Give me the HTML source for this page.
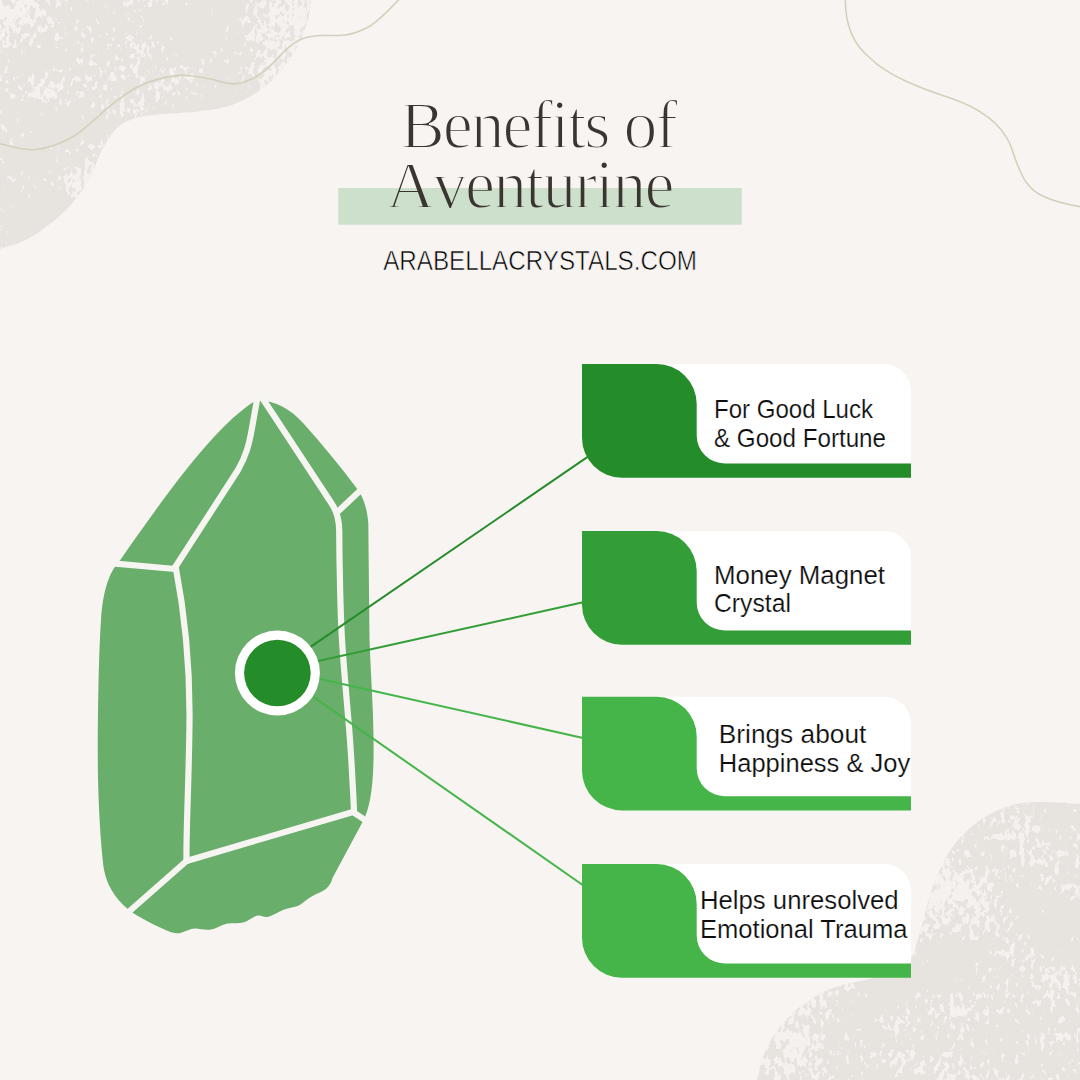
<!DOCTYPE html>
<html><head><meta charset="utf-8"><style>
html,body{margin:0;padding:0;background:#f7f4f2;}
body{width:1080px;height:1080px;overflow:hidden;position:relative;}
svg{position:absolute;left:0;top:0;display:block;}
text{font-family:"Liberation Sans", sans-serif;}
.serif{font-family:"Liberation Serif", serif;}
</style></head><body>
<svg width="1080" height="1080" viewBox="0 0 1080 1080">
<rect width="1080" height="1080" fill="#f7f4f2"/>
<filter id="speck" filterUnits="userSpaceOnUse" x="0" y="0" width="1080" height="1080" color-interpolation-filters="sRGB">
<feTurbulence type="fractalNoise" baseFrequency="0.2 0.12" numOctaves="3" seed="11" result="t1"/>
<feColorMatrix in="t1" type="matrix" values="1 0 0 0 0 0 1 0 0 0 0 0 1 0 0 0 0 0 0 1" result="n1"/>
<feTurbulence type="fractalNoise" baseFrequency="0.012 0.02" numOctaves="2" seed="4" result="t2"/>
<feColorMatrix in="t2" type="matrix" values="1 0 0 0 0 0 1 0 0 0 0 0 1 0 0 0 0 0 0 1" result="n2"/>
<feComposite in="n1" in2="n2" operator="arithmetic" k1="0" k2="1" k3="1.0" k4="-0.5" result="n"/>
<feColorMatrix in="n" type="matrix" values="0 0 0 0 0.957 0 0 0 0 0.945 0 0 0 0 0.937 18 0 0 0 -11.1" result="sp"/>
<feComposite in="sp" in2="SourceGraphic" operator="in" result="spc"/>
<feMerge><feMergeNode in="SourceGraphic"/><feMergeNode in="spc"/></feMerge>
</filter>
<g filter="url(#speck)"><path d="M312.6 -10.0 C312.3 -8.3 311.9 -5.5 311.0 0.0 C310.1 5.5 309.8 14.6 307.0 23.3 C304.2 32.0 300.1 42.7 294.5 52.0 C288.9 61.3 280.5 72.0 273.3 79.3 C266.1 86.6 259.1 91.3 251.1 95.9 C243.1 100.5 234.4 104.4 225.2 107.0 C215.9 109.6 206.7 110.5 195.6 111.7 C184.5 112.9 168.4 113.4 158.5 114.4 C148.6 115.5 143.0 115.7 136.0 118.0 C129.0 120.3 122.5 122.7 116.7 128.3 C110.9 133.9 105.5 143.3 101.0 151.7 C96.5 160.1 95.3 169.2 89.5 178.9 C83.7 188.6 75.8 200.3 66.0 210.0 C56.2 219.7 42.0 230.8 31.0 237.3 C20.0 243.8 6.8 246.7 0.0 249.0 C-6.8 251.3 -8.3 250.7 -10.0 251.0 L-10 -10 Z" fill="#e7e4e0"/><path d="M745.0 1090.0 C747.0 1088.3 753.8 1085.2 756.7 1080.0 C759.6 1074.8 759.4 1065.8 762.2 1058.5 C765.0 1051.2 769.0 1043.1 773.3 1036.3 C777.6 1029.5 782.9 1023.3 788.1 1017.8 C793.4 1012.2 798.9 1007.3 804.8 1003.0 C810.7 998.7 816.8 995.0 823.3 991.9 C829.8 988.8 836.0 986.6 843.7 984.4 C851.4 982.2 861.9 981.0 869.6 978.9 C877.3 976.8 883.0 975.7 890.0 972.0 C897.0 968.3 907.0 961.7 911.5 956.7 C916.0 951.7 915.1 947.5 917.0 941.9 C918.9 936.3 920.8 930.1 922.6 923.3 C924.5 916.5 925.9 908.5 928.1 901.1 C930.3 893.7 932.2 886.9 935.6 878.9 C939.0 870.9 943.9 860.4 948.5 853.0 C953.1 845.6 957.4 840.3 963.3 834.4 C969.2 828.5 976.0 822.6 983.7 817.8 C991.4 813.0 1000.6 808.3 1009.6 805.7 C1018.6 803.1 1025.7 802.3 1037.4 802.0 C1049.1 801.7 1071.2 803.4 1080.0 803.9 C1088.8 804.4 1088.3 804.8 1090.0 805.0 L1090 1090 Z" fill="#e7e4e0"/></g>
<path d="M-5.0 143.0 C-4.2 143.1 -6.8 142.6 0.0 143.7 C6.8 144.8 23.3 150.9 35.6 149.6 C47.9 148.3 61.6 143.3 74.0 136.0 C86.4 128.7 99.0 114.4 110.0 106.0 C121.0 97.6 128.8 90.8 140.0 85.7 C151.2 80.6 166.2 76.9 177.0 75.6 C187.8 74.3 195.7 76.6 205.0 78.0 C214.3 79.4 224.9 83.7 232.6 83.9 C240.3 84.1 244.9 82.2 251.1 79.3 C257.3 76.4 263.5 71.5 269.6 66.3 C275.8 61.0 282.4 52.4 288.0 47.8 C293.6 43.2 297.7 40.5 303.0 38.5 C308.3 36.5 312.7 36.1 320.0 35.5 C327.3 34.9 338.6 36.3 346.7 34.8 C354.8 33.3 362.7 30.0 368.9 26.7 C375.1 23.4 378.8 19.2 383.7 14.8 C388.6 10.4 395.3 3.3 398.5 0.0 C401.7 -3.3 402.2 -4.2 403.0 -5.0" fill="none" stroke="#d3d0bd" stroke-width="1.6"/>
<path d="M845.3 -2 C845 20 850 42 870 58 C888 76 920 88 950 98 C980 108 1000 122 1010 144 C1018 165 1022 188 1045 197 C1058 203 1070 205 1082 207" fill="none" stroke="#d3d0bd" stroke-width="1.6"/>
<rect x="338.3" y="188" width="403.4" height="36.7" fill="#cce0cc"/>
<defs>
<clipPath id="cTop"><rect x="0" y="0" width="1080" height="188"/><rect x="0" y="224.7" width="1080" height="100"/><rect x="0" y="0" width="338.3" height="300"/><rect x="741.7" y="0" width="340" height="300"/></clipPath>
<clipPath id="cBar"><rect x="338.3" y="188" width="403.4" height="36.7"/></clipPath>
</defs>
<g clip-path="url(#cTop)" stroke="#f7f4f2" stroke-width="1.8" fill="#3b3532" font-size="68">
<text class="serif" x="0" y="148.3" transform="translate(400.3 0) scale(0.98 1)" textLength="283.1" lengthAdjust="spacing"><tspan font-size="68">B</tspan><tspan font-size="69">enefits of</tspan></text>
<text class="serif" x="0" y="208" transform="translate(386.5 0) scale(0.98 1)" textLength="293.9" lengthAdjust="spacing"><tspan font-size="68">A</tspan><tspan font-size="69">venturine</tspan></text>
</g>
<g clip-path="url(#cBar)" stroke="#cce0cc" stroke-width="1.8" fill="#3b3532" font-size="68">
<text class="serif" x="0" y="208" transform="translate(386.5 0) scale(0.98 1)" textLength="293.9" lengthAdjust="spacing"><tspan font-size="68">A</tspan><tspan font-size="69">venturine</tspan></text>
</g>
<text x="383.2" y="269.6" textLength="313.7" lengthAdjust="spacingAndGlyphs" font-size="28" fill="#000000" stroke="#f7f4f2" stroke-width="0.6">ARABELLACRYSTALS.COM</text>
<path d="M260 400.8 C272 400 290 408 303.3 423.3 C322 444 340 466 356.7 488.3 C362 495 367 506 368.3 523.3 L369.5 640 C371 680 373.5 710 373.6 745 C373.8 782 371 808 362 823 L332.5 878 C331 884 328 888 323.3 890.8 C321.1 891.9 314.2 895.0 310.0 897.5 C305.8 900.0 302.5 903.8 298.3 905.8 C294.1 907.8 290.0 907.4 285.0 909.2 C280.0 911.0 273.0 915.6 268.3 916.7 C263.6 917.8 260.9 914.8 256.7 915.8 C252.5 916.8 248.3 921.2 243.3 922.5 C238.3 923.8 232.2 922.5 226.7 923.7 C221.1 924.9 215.6 928.9 210.0 929.7 C204.4 930.5 198.9 928.1 193.3 928.7 C187.8 929.3 182.2 933.5 176.7 933.3 C171.1 933.1 165.1 929.6 160.0 927.5 C154.9 925.4 150.4 922.8 146.0 920.5 C141.6 918.2 135.8 914.7 133.7 913.5 C120 904 108 890 104 870 C100 840 97.8 790 97.8 758 C97.8 700 99 650 101 620 C103 590 109 572 121 559 C186 465 222 423 253 402.3 C256 401.2 258 400.8 260 400.8 Z" fill="#6aae6c"/>
<g fill="none" stroke="#f7f5f2" stroke-width="6.2" stroke-linecap="round" stroke-linejoin="round">
<path d="M257.5 397 L252 428 C249 445 246 456 238 470 L175.6 566.5"/><path d="M110 563.2 L175.2 569"/><path d="M175.6 566.5 C184 610 190 660 189.5 720 C189 780 186 830 186.5 861"/><path d="M186.5 861 L353 812"/><path d="M186.5 861 L124 916"/><path d="M261 396 L332 504 Q339 515 339.2 530 L339.5 560  C339.9 573.3 340.2 610.0 342.0 640.0 C343.8 670.0 348.2 715.0 350.0 740.0 C351.8 765.0 352.3 778.2 353.0 790.0 C353.7 801.8 353.8 807.5 354.0 811.0"/><path d="M338.5 511 L364 487"/><path d="M353 812 L368 822"/>
</g>
<g stroke-width="2.0">
<line x1="300" y1="654.1" x2="588" y2="456.6" stroke="#258c2a"/>
<line x1="300" y1="665.1" x2="583" y2="602.3" stroke="#339d37"/>
<line x1="300" y1="674.4" x2="583" y2="738" stroke="#45b54a"/>
<line x1="300" y1="687.6" x2="583" y2="885.2" stroke="#45b54a"/>
</g>
<circle cx="277.4" cy="673" r="42.5" fill="#ffffff"/>
<circle cx="277.4" cy="673" r="33.3" fill="#258c2a"/>
<path d="M640 364 H884 A27 27 0 0 1 911 391 V463.7 H640 Z" fill="#ffffff"/><path d="M582 364 H656.5 A40 40 0 0 1 696.7 404 V435.5 A28 28 0 0 0 724.7 463.5 H911 V477.7 H622 A40 40 0 0 1 582 437.7 Z" fill="#258c2a"/><path d="M640 531 H884 A27 27 0 0 1 911 558 V630.7 H640 Z" fill="#ffffff"/><path d="M582 531 H656.5 A40 40 0 0 1 696.7 571 V602.5 A28 28 0 0 0 724.7 630.5 H911 V644.7 H622 A40 40 0 0 1 582 604.7 Z" fill="#339d37"/><path d="M640 696.7 H884 A27 27 0 0 1 911 723.7 V796.4000000000001 H640 Z" fill="#ffffff"/><path d="M582 696.7 H656.5 A40 40 0 0 1 696.7 736.7 V768.2 A28 28 0 0 0 724.7 796.2 H911 V810.4000000000001 H622 A40 40 0 0 1 582 770.4000000000001 Z" fill="#45b54a"/><path d="M640 864 H884 A27 27 0 0 1 911 891 V963.7 H640 Z" fill="#ffffff"/><path d="M582 864 H656.5 A40 40 0 0 1 696.7 904 V935.5 A28 28 0 0 0 724.7 963.5 H911 V977.7 H622 A40 40 0 0 1 582 937.7 Z" fill="#45b54a"/>
<text x="714" y="417.7" textLength="159" lengthAdjust="spacingAndGlyphs" font-size="26.5" fill="#0d0d0d" stroke="#ffffff" stroke-width="0.2">For Good Luck</text><text x="714" y="446.7" textLength="172" lengthAdjust="spacingAndGlyphs" font-size="26.5" fill="#0d0d0d" stroke="#ffffff" stroke-width="0.2">&amp; Good Fortune</text><text x="714" y="584" textLength="171" lengthAdjust="spacingAndGlyphs" font-size="26.5" fill="#0d0d0d" stroke="#ffffff" stroke-width="0.2">Money Magnet</text><text x="714" y="612.3" textLength="77" lengthAdjust="spacingAndGlyphs" font-size="26.5" fill="#0d0d0d" stroke="#ffffff" stroke-width="0.2">Crystal</text><text x="718.8" y="743.3" textLength="147.5" lengthAdjust="spacingAndGlyphs" font-size="26.5" fill="#0d0d0d" stroke="#ffffff" stroke-width="0.2">Brings about</text><text x="718.8" y="771.7" textLength="191.5" lengthAdjust="spacingAndGlyphs" font-size="26.5" fill="#0d0d0d" stroke="#ffffff" stroke-width="0.2">Happiness &amp; Joy</text><text x="700" y="909" textLength="198.6" lengthAdjust="spacingAndGlyphs" font-size="26.5" fill="#0d0d0d" stroke="#ffffff" stroke-width="0.2">Helps unresolved</text><text x="700" y="937.7" textLength="207.5" lengthAdjust="spacingAndGlyphs" font-size="26.5" fill="#0d0d0d" stroke="#ffffff" stroke-width="0.2">Emotional Trauma</text>
</svg>
</body></html>
